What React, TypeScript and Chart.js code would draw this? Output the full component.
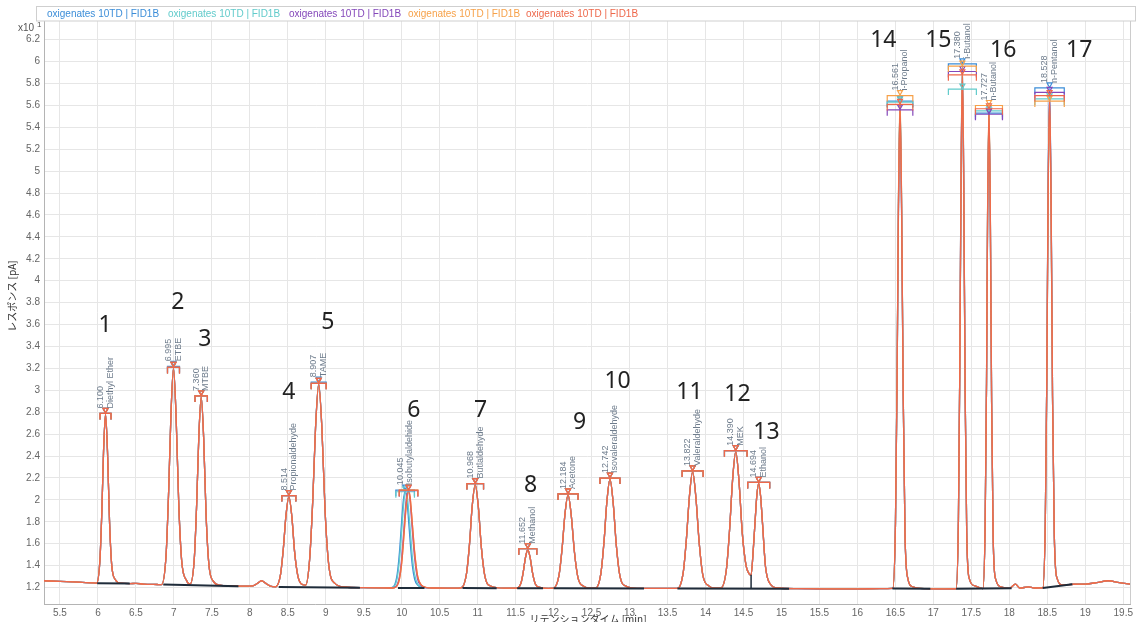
import React, { useEffect, useRef } from "react";
import { Chart, registerables } from "chart.js";

Chart.register(...registerables);

// ---------- data ----------
const retentionTime = [
  5.29, 5.5, 5.75, 5.95,
  5.982, 6.026, 6.052, 6.074, 6.1, 6.126, 6.152, 6.181, 6.23,
  6.3, 6.42, 6.5, 6.6, 6.78,
  6.838, 6.897, 6.931, 6.961, 6.995, 7.029, 7.064, 7.103, 7.167,
  7.213, 7.268, 7.3, 7.328, 7.36, 7.392, 7.424, 7.461, 7.521,
  7.6, 7.75, 7.9,
  8.04, 8.1, 8.155, 8.21, 8.27,
  8.338, 8.404, 8.442, 8.475, 8.514, 8.553, 8.591, 8.635, 8.69,
  8.735, 8.787, 8.829, 8.865, 8.907, 8.949, 8.991, 9.039, 9.117,
  9.25, 9.5, 9.7,
  9.85, 9.9, 9.94, 9.97, 10.0, 10.02, 10.045, 10.07, 10.09, 10.11, 10.14, 10.17, 10.21, 10.26, 10.33, 10.42,
  10.6,
  10.782, 10.852, 10.893, 10.927, 10.968, 11.009, 11.049, 11.096, 11.171,
  11.35,
  11.516, 11.57, 11.601, 11.628, 11.66, 11.692, 11.723, 11.759, 11.818,
  11.93,
  11.998, 12.07, 12.112, 12.148, 12.19, 12.232, 12.274, 12.322, 12.4,
  12.48,
  12.55, 12.622, 12.664, 12.7, 12.742, 12.784, 12.826, 12.874, 12.952,
  13.1, 13.4,
  13.632, 13.706, 13.749, 13.787, 13.83, 13.873, 13.917, 13.966, 14.047,
  14.13,
  14.2, 14.274, 14.317, 14.355, 14.398, 14.441, 14.485, 14.534, 14.57, 14.6,
  14.63, 14.655, 14.675, 14.7, 14.725, 14.75, 14.79, 14.85, 14.95,
  15.2, 15.6, 16.0, 16.3,
  16.465, 16.501, 16.522, 16.54, 16.561, 16.582, 16.603, 16.627, 16.666, 16.72,
  16.9, 17.15,
  17.299, 17.33, 17.348, 17.364, 17.382, 17.4, 17.418, 17.439, 17.473, 17.55, 17.62,
  17.652, 17.682, 17.7, 17.714, 17.732, 17.75, 17.767, 17.787, 17.82, 17.9,
  18.0, 18.08, 18.14, 18.25, 18.33,
  18.44, 18.474, 18.494, 18.51, 18.53, 18.55, 18.569, 18.592, 18.628,
  18.7, 18.85, 19.0, 19.15, 19.3, 19.45, 19.59,
];

const responseBlue = [
  1.262, 1.256, 1.249, 1.242,
  1.240, 1.448, 1.902, 2.441, 2.780, 2.441, 1.818, 1.409, 1.271,
  1.240, 1.236, 1.238, 1.232, 1.228,
  1.227, 1.492, 2.074, 2.765, 3.210, 2.765, 1.966, 1.442, 1.265,
  1.232, 1.454, 1.961, 2.567, 2.940, 2.567, 1.866, 1.411, 1.256,
  1.222, 1.216, 1.213,
  1.215, 1.238, 1.262, 1.238, 1.214,
  1.207, 1.318, 1.561, 1.849, 2.030, 1.849, 1.516, 1.298, 1.228,
  1.222, 1.454, 2.000, 2.653, 3.065, 2.653, 1.898, 1.408, 1.241,
  1.205, 1.199, 1.197,
  1.197, 1.216, 1.321, 1.520, 1.812, 1.987, 2.080, 1.987, 1.815, 1.629, 1.400, 1.276, 1.222, 1.204, 1.198, 1.196,
  1.195,
  1.198, 1.323, 1.601, 1.935, 2.140, 1.935, 1.564, 1.299, 1.214,
  1.194,
  1.195, 1.241, 1.345, 1.469, 1.545, 1.469, 1.331, 1.233, 1.201,
  1.193,
  1.194, 1.308, 1.559, 1.860, 2.045, 1.860, 1.525, 1.287, 1.210,
  1.195,
  1.194, 1.328, 1.622, 1.974, 2.190, 1.974, 1.582, 1.303, 1.213,
  1.193, 1.192,
  1.193, 1.336, 1.649, 2.024, 2.255, 2.024, 1.607, 1.309, 1.213,
  1.194,
  1.195, 1.360, 1.729, 2.169, 2.440, 2.169, 1.690, 1.400, 1.330, 1.316,
  1.560, 1.830, 2.035, 2.150, 2.035, 1.790, 1.390, 1.235, 1.196,
  1.190, 1.188, 1.188, 1.190,
  1.192, 1.785, 3.086, 4.667, 5.630, 4.667, 2.954, 1.675, 1.278, 1.210,
  1.190, 1.188,
  1.189, 1.820, 3.201, 4.932, 5.970, 4.932, 3.014, 1.703, 1.282, 1.215, 1.195,
  1.191, 1.780, 3.069, 4.580, 5.520, 4.580, 2.894, 1.671, 1.277, 1.205,
  1.192, 1.232, 1.195, 1.206, 1.196,
  1.197, 1.801, 3.124, 4.762, 5.750, 4.762, 2.945, 1.689, 1.286,
  1.225, 1.230, 1.232, 1.245, 1.262, 1.245, 1.232,
];

const responseCyan = [
  1.262, 1.256, 1.249, 1.242,
  1.240, 1.448, 1.902, 2.441, 2.780, 2.441, 1.818, 1.409, 1.271,
  1.240, 1.236, 1.238, 1.232, 1.228,
  1.227, 1.492, 2.074, 2.765, 3.200, 2.765, 1.966, 1.442, 1.265,
  1.232, 1.454, 1.961, 2.567, 2.940, 2.567, 1.866, 1.411, 1.256,
  1.222, 1.216, 1.213,
  1.215, 1.238, 1.262, 1.238, 1.214,
  1.207, 1.318, 1.561, 1.849, 2.030, 1.849, 1.516, 1.298, 1.228,
  1.222, 1.454, 2.000, 2.653, 3.055, 2.653, 1.898, 1.408, 1.241,
  1.205, 1.199, 1.197,
  1.196, 1.210, 1.287, 1.452, 1.722, 1.912, 2.065, 2.046, 1.912, 1.744, 1.479, 1.320, 1.231, 1.208, 1.199, 1.196,
  1.195,
  1.198, 1.323, 1.601, 1.935, 2.140, 1.935, 1.564, 1.299, 1.214,
  1.194,
  1.195, 1.241, 1.345, 1.469, 1.545, 1.469, 1.331, 1.233, 1.201,
  1.193,
  1.194, 1.308, 1.559, 1.860, 2.045, 1.860, 1.525, 1.287, 1.210,
  1.195,
  1.194, 1.328, 1.622, 1.974, 2.190, 1.974, 1.582, 1.303, 1.213,
  1.193, 1.192,
  1.193, 1.336, 1.649, 2.024, 2.255, 2.024, 1.607, 1.309, 1.213,
  1.194,
  1.195, 1.360, 1.729, 2.169, 2.440, 2.169, 1.690, 1.400, 1.330, 1.316,
  1.560, 1.830, 2.035, 2.150, 2.035, 1.790, 1.390, 1.235, 1.196,
  1.190, 1.188, 1.188, 1.190,
  1.192, 1.785, 3.086, 4.659, 5.620, 4.659, 2.954, 1.675, 1.278, 1.210,
  1.190, 1.188,
  1.189, 1.820, 3.201, 4.752, 5.740, 4.752, 3.014, 1.703, 1.282, 1.215, 1.195,
  1.191, 1.780, 3.069, 4.596, 5.540, 4.596, 2.894, 1.671, 1.277, 1.205,
  1.192, 1.232, 1.195, 1.206, 1.196,
  1.197, 1.801, 3.124, 4.683, 5.650, 4.683, 2.945, 1.689, 1.286,
  1.225, 1.230, 1.232, 1.245, 1.262, 1.245, 1.232,
];

const responsePurple = [
  1.262, 1.256, 1.249, 1.242,
  1.240, 1.448, 1.902, 2.441, 2.780, 2.441, 1.818, 1.409, 1.271,
  1.240, 1.236, 1.238, 1.232, 1.228,
  1.227, 1.492, 2.074, 2.765, 3.200, 2.765, 1.966, 1.442, 1.265,
  1.232, 1.454, 1.961, 2.567, 2.940, 2.567, 1.866, 1.411, 1.256,
  1.222, 1.216, 1.213,
  1.215, 1.238, 1.262, 1.238, 1.214,
  1.207, 1.318, 1.561, 1.849, 2.030, 1.849, 1.516, 1.298, 1.228,
  1.222, 1.454, 2.000, 2.653, 3.055, 2.653, 1.898, 1.408, 1.241,
  1.205, 1.199, 1.197,
  1.196, 1.200, 1.225, 1.300, 1.470, 1.650, 1.890, 2.060, 2.075, 1.990, 1.720, 1.470, 1.275, 1.215, 1.199, 1.196,
  1.195,
  1.198, 1.323, 1.601, 1.935, 2.140, 1.935, 1.564, 1.299, 1.214,
  1.194,
  1.195, 1.241, 1.345, 1.469, 1.545, 1.469, 1.331, 1.233, 1.201,
  1.193,
  1.194, 1.308, 1.559, 1.860, 2.045, 1.860, 1.525, 1.287, 1.210,
  1.195,
  1.194, 1.328, 1.622, 1.974, 2.190, 1.974, 1.582, 1.303, 1.213,
  1.193, 1.192,
  1.193, 1.336, 1.649, 2.024, 2.255, 2.024, 1.607, 1.309, 1.213,
  1.194,
  1.195, 1.360, 1.729, 2.169, 2.440, 2.169, 1.690, 1.400, 1.330, 1.316,
  1.560, 1.830, 2.035, 2.150, 2.035, 1.790, 1.390, 1.235, 1.196,
  1.190, 1.186, 1.186, 1.190,
  1.192, 1.785, 3.086, 4.604, 5.550, 4.604, 2.954, 1.675, 1.278, 1.210,
  1.190, 1.186,
  1.189, 1.820, 3.201, 4.877, 5.900, 4.877, 3.014, 1.703, 1.282, 1.215, 1.195,
  1.191, 1.780, 3.069, 4.573, 5.510, 4.573, 2.894, 1.671, 1.277, 1.205,
  1.192, 1.232, 1.195, 1.206, 1.196,
  1.197, 1.801, 3.124, 4.730, 5.710, 4.730, 2.945, 1.689, 1.286,
  1.225, 1.230, 1.232, 1.245, 1.262, 1.245, 1.232,
];

const responseOrange = [
  1.262, 1.256, 1.249, 1.242,
  1.240, 1.448, 1.902, 2.441, 2.780, 2.441, 1.818, 1.409, 1.271,
  1.240, 1.236, 1.238, 1.232, 1.228,
  1.227, 1.492, 2.074, 2.765, 3.200, 2.765, 1.966, 1.442, 1.265,
  1.232, 1.454, 1.961, 2.567, 2.940, 2.567, 1.866, 1.411, 1.256,
  1.222, 1.216, 1.213,
  1.215, 1.238, 1.262, 1.238, 1.214,
  1.207, 1.318, 1.561, 1.849, 2.030, 1.849, 1.516, 1.298, 1.228,
  1.222, 1.454, 2.000, 2.653, 3.055, 2.653, 1.898, 1.408, 1.241,
  1.205, 1.199, 1.197,
  1.196, 1.198, 1.217, 1.278, 1.426, 1.590, 1.828, 2.024, 2.080, 2.027, 1.780, 1.523, 1.302, 1.222, 1.200, 1.196,
  1.195,
  1.198, 1.323, 1.601, 1.935, 2.140, 1.935, 1.564, 1.299, 1.214,
  1.194,
  1.195, 1.241, 1.345, 1.469, 1.545, 1.469, 1.331, 1.233, 1.201,
  1.193,
  1.194, 1.308, 1.559, 1.860, 2.045, 1.860, 1.525, 1.287, 1.210,
  1.195,
  1.194, 1.328, 1.622, 1.974, 2.190, 1.974, 1.582, 1.303, 1.213,
  1.193, 1.192,
  1.193, 1.336, 1.649, 2.024, 2.255, 2.024, 1.607, 1.309, 1.213,
  1.194,
  1.195, 1.360, 1.729, 2.169, 2.440, 2.169, 1.690, 1.400, 1.330, 1.316,
  1.560, 1.830, 2.035, 2.150, 2.035, 1.790, 1.390, 1.235, 1.196,
  1.190, 1.188, 1.188, 1.190,
  1.192, 1.785, 3.086, 4.706, 5.680, 4.706, 2.954, 1.675, 1.278, 1.210,
  1.190, 1.188,
  1.189, 1.820, 3.201, 4.917, 5.950, 4.917, 3.014, 1.703, 1.282, 1.215, 1.195,
  1.191, 1.780, 3.069, 4.635, 5.590, 4.635, 2.894, 1.671, 1.277, 1.205,
  1.192, 1.232, 1.195, 1.206, 1.196,
  1.197, 1.801, 3.124, 4.668, 5.630, 4.668, 2.945, 1.689, 1.286,
  1.225, 1.230, 1.232, 1.245, 1.262, 1.245, 1.232,
];

const responseRed = [
  1.262, 1.256, 1.249, 1.242,
  1.240, 1.448, 1.902, 2.441, 2.780, 2.441, 1.818, 1.409, 1.271,
  1.240, 1.236, 1.238, 1.232, 1.228,
  1.227, 1.492, 2.074, 2.765, 3.200, 2.765, 1.966, 1.442, 1.265,
  1.232, 1.454, 1.961, 2.567, 2.940, 2.567, 1.866, 1.411, 1.256,
  1.222, 1.216, 1.213,
  1.215, 1.238, 1.262, 1.238, 1.214,
  1.207, 1.318, 1.561, 1.849, 2.030, 1.849, 1.516, 1.298, 1.228,
  1.222, 1.454, 2.000, 2.653, 3.055, 2.653, 1.898, 1.408, 1.241,
  1.205, 1.199, 1.197,
  1.196, 1.198, 1.217, 1.278, 1.426, 1.590, 1.828, 2.024, 2.080, 2.027, 1.780, 1.523, 1.302, 1.222, 1.200, 1.196,
  1.195,
  1.198, 1.323, 1.601, 1.935, 2.140, 1.935, 1.564, 1.299, 1.214,
  1.194,
  1.195, 1.241, 1.345, 1.469, 1.545, 1.469, 1.331, 1.233, 1.201,
  1.193,
  1.194, 1.308, 1.559, 1.860, 2.045, 1.860, 1.525, 1.287, 1.210,
  1.195,
  1.194, 1.328, 1.622, 1.974, 2.190, 1.974, 1.582, 1.303, 1.213,
  1.193, 1.192,
  1.193, 1.336, 1.649, 2.024, 2.255, 2.024, 1.607, 1.309, 1.213,
  1.194,
  1.195, 1.360, 1.729, 2.169, 2.440, 2.169, 1.690, 1.400, 1.330, 1.316,
  1.560, 1.830, 2.035, 2.150, 2.035, 1.790, 1.390, 1.235, 1.196,
  1.190, 1.188, 1.188, 1.190,
  1.192, 1.785, 3.086, 4.643, 5.600, 4.643, 2.954, 1.675, 1.278, 1.210,
  1.190, 1.188,
  1.189, 1.820, 3.201, 4.854, 5.870, 4.854, 3.014, 1.703, 1.282, 1.215, 1.195,
  1.191, 1.780, 3.069, 4.612, 5.560, 4.612, 2.894, 1.671, 1.277, 1.205,
  1.192, 1.232, 1.195, 1.206, 1.196,
  1.197, 1.801, 3.124, 4.707, 5.680, 4.707, 2.945, 1.689, 1.286,
  1.225, 1.230, 1.232, 1.245, 1.262, 1.245, 1.232,
];

const seriesNames = [
  "oxigenates 10TD | FID1B",
  "oxigenates 10TD | FID1B",
  "oxigenates 10TD | FID1B",
  "oxigenates 10TD | FID1B",
  "oxigenates 10TD | FID1B",
];

// integration baselines (start/end retention time and response)
const integrationStart = [5.99, 6.86, 8.38, 9.95, 10.8, 11.52, 12.0, 13.63, 16.46, 17.3, 18.44];
const integrationStartLevel = [1.240, 1.227, 1.206, 1.196, 1.196, 1.194, 1.193, 1.192, 1.191, 1.189, 1.196];
const integrationEnd = [6.42, 7.85, 9.45, 10.3, 11.25, 11.86, 13.19, 15.1, 16.96, 18.03, 18.83];
const integrationEndLevel = [1.236, 1.213, 1.199, 1.196, 1.194, 1.193, 1.192, 1.190, 1.190, 1.193, 1.230];
const dropLineTime = [14.6, 14.6];
const dropLineLevel = [1.191, 1.316];

// peaks
const peakTimes = [6.1, 6.995, 7.36, 8.514, 8.907, 10.045, 10.968, 11.652, 12.184, 12.742, 13.822, 14.39, 14.694, 16.561, 17.38, 17.727, 18.528];
const peakRtLabels = ["6.100", "6.995", "7.360", "8.514", "8.907", "10.045", "10.968", "11.652", "12.184", "12.742", "13.822", "14.390", "14.694", "16.561", "17.380", "17.727", "18.528"];
const peakCompounds = ["Diethyl Ether", "ETBE", "MTBE", "Propionaldehyde", "TAME", "Isobutylaldehide", "Butlaldehyde", "Methanol", "Acetone", "Isovaleraldehyde", "Valeraldehyde", "MEK", "Ethanol", "i-Propanol", "i-Butanol", "n-Butanol", "n-Pentanol"];
const peakNumbers = ["1", "2", "3", "4", "5", "6", "7", "8", "9", "10", "11", "12", "13", "14", "15", "16", "17"];
const peakNumberTime = [6.093, 7.053, 7.408, 8.513, 9.026, 10.158, 11.039, 11.697, 12.342, 12.842, 13.789, 14.421, 14.802, 16.341, 17.065, 17.92, 18.92];
const peakNumberResponse = [3.596, 3.806, 3.468, 2.984, 3.623, 2.82, 2.82, 2.136, 2.711, 3.085, 2.984, 2.966, 2.619, 6.196, 6.196, 6.105, 6.105];

const xTicks = [5.5, 6, 6.5, 7, 7.5, 8, 8.5, 9, 9.5, 10, 10.5, 11, 11.5, 12, 12.5, 13, 13.5, 14, 14.5, 15, 15.5, 16, 16.5, 17, 17.5, 18, 18.5, 19, 19.5];
const yTicks = [1.2, 1.4, 1.6, 1.8, 2, 2.2, 2.4, 2.6, 2.8, 3, 3.2, 3.4, 3.6, 3.8, 4, 4.2, 4.4, 4.6, 4.8, 5, 5.2, 5.4, 5.6, 5.8, 6, 6.2];

// ---------- styles ----------
const seriesColors = ["#3b8dd8", "#62cbcb", "#8448ba", "#f6a149", "#ee684b"];
const bracketHalfWidth = [5.5, 6, 6.2, 7, 7.5, 9.3, 8.3, 9, 10, 10, 10.5, 11.3, 11, 12.8, 14, 13.5, 14.7];
const legendX = [47, 168, 289, 408, 526];
const FONT = "'Liberation Sans', Arial, sans-serif";

export default function App() {
  const ref = useRef<HTMLCanvasElement>(null);

  useEffect(() => {
    const canvas = ref.current;
    if (!canvas) return;
    Chart.defaults.font.family = FONT;
    const series = [responseBlue, responseCyan, responsePurple, responseOrange, responseRed];

    const datasets: any[] = series.map((vals, i) => ({
      label: seriesNames[i],
      data: retentionTime.map((t, k) => ({ x: t, y: vals[k] })),
      borderColor: seriesColors[i],
      borderWidth: 1.3,
      pointRadius: 0,
      cubicInterpolationMode: "monotone",
      fill: false,
      order: 10 - i,
    }));

    const integ: any[] = [];
    integrationStart.forEach((s, i) => {
      integ.push({ x: s, y: integrationStartLevel[i] });
      integ.push({ x: integrationEnd[i], y: integrationEndLevel[i] });
      integ.push({ x: integrationEnd[i] + 0.001, y: null });
    });
    datasets.push({
      label: "integration",
      data: integ,
      borderColor: "#1f2c3a",
      borderWidth: 2,
      pointRadius: 0,
      tension: 0,
      spanGaps: false,
      fill: false,
      order: 1,
    });
    datasets.push({
      label: "drop",
      data: dropLineTime.map((t, i) => ({ x: t, y: dropLineLevel[i] })),
      borderColor: "#1f2c3a",
      borderWidth: 1.5,
      pointRadius: 0,
      tension: 0,
      fill: false,
      order: 1,
    });

    const peakPlugin = {
      id: "peakAnnotations",
      afterDatasetsDraw(chart: any) {
        const { ctx, chartArea: ca, scales } = chart;
        const xs = scales.x;
        const ys = scales.y;
        ctx.save();
        ctx.beginPath();
        ctx.rect(ca.left, ca.top, ca.right - ca.left, ca.bottom - ca.top);
        ctx.clip();
        peakTimes.forEach((pt, p) => {
          let topY = Infinity;
          let labelX = 0;
          series.forEach((vals, si) => {
            let bi = -1;
            for (let k = 0; k < retentionTime.length; k++) {
              if (Math.abs(retentionTime[k] - pt) <= 0.065 && (bi < 0 || vals[k] > vals[bi])) bi = k;
            }
            if (bi < 0) return;
            const px = xs.getPixelForValue(retentionTime[bi]);
            const py = ys.getPixelForValue(vals[bi]);
            if (si === 0) labelX = px;
            topY = Math.min(topY, py);
            const hw = bracketHalfWidth[p];
            ctx.strokeStyle = seriesColors[si];
            ctx.lineWidth = 1.2;
            ctx.beginPath();
            ctx.moveTo(px - hw, py + 5);
            ctx.lineTo(px - hw, py - 1);
            ctx.lineTo(px + hw, py - 1);
            ctx.lineTo(px + hw, py + 5);
            ctx.stroke();
            ctx.beginPath();
            ctx.moveTo(px - 2.5, py - 6);
            ctx.lineTo(px + 2.5, py - 6);
            ctx.lineTo(px, py - 1.5);
            ctx.closePath();
            ctx.stroke();
          });
          ctx.fillStyle = "#6e7c8c";
          ctx.font = "9px " + FONT;
          const cols: [string, number][] = [
            [peakRtLabels[p], -4.8],
            [peakCompounds[p], 4.8],
          ];
          cols.forEach(([txt, dx]) => {
            ctx.save();
            ctx.translate(labelX + dx, topY - 6);
            ctx.rotate(-Math.PI / 2);
            ctx.textAlign = "left";
            ctx.textBaseline = "middle";
            ctx.fillText(txt, 0, 0);
            ctx.restore();
          });
        });
        ctx.restore();

        // big peak numbers
        ctx.save();
        ctx.fillStyle = "#222";
        ctx.font = "23px 'Noto Sans', sans-serif";
        ctx.textAlign = "center";
        ctx.textBaseline = "middle";
        peakNumbers.forEach((n, i) => {
          ctx.fillText(n, xs.getPixelForValue(peakNumberTime[i]), ys.getPixelForValue(peakNumberResponse[i]));
        });
        ctx.restore();
      },
      afterDraw(chart: any) {
        const { ctx, chartArea: ca } = chart;
        ctx.save();
        // legend box
        ctx.strokeStyle = "#cfcfcf";
        ctx.lineWidth = 1;
        ctx.strokeRect(36.5, 6.5, 1099, 14.5);
        ctx.font = "10px " + FONT;
        ctx.textBaseline = "middle";
        ctx.textAlign = "left";
        seriesNames.forEach((n, i) => {
          ctx.fillStyle = seriesColors[i];
          ctx.fillText(n, legendX[i], 14);
        });
        // right border
        ctx.strokeStyle = "#cccccc";
        ctx.beginPath();
        ctx.moveTo(Math.round(ca.right) + 0.5, ca.top);
        ctx.lineTo(Math.round(ca.right) + 0.5, ca.bottom);
        ctx.stroke();
        // x10^1
        ctx.fillStyle = "#555";
        ctx.font = "10px " + FONT;
        ctx.textAlign = "right";
        ctx.fillText("x10", 34, 28);
        ctx.font = "8px " + FONT;
        ctx.textAlign = "left";
        ctx.fillText("1", 37, 25);
        // y-axis title
        ctx.fillStyle = "#333";
        ctx.font = "10px 'Noto Sans CJK JP', sans-serif";
        ctx.save();
        ctx.translate(12, 296);
        ctx.rotate(-Math.PI / 2);
        ctx.textAlign = "center";
        ctx.textBaseline = "middle";
        ctx.fillText("レスポンス [pA]", 0, 0);
        ctx.restore();
        // x-axis title (cut at bottom edge)
        ctx.textAlign = "center";
        ctx.textBaseline = "top";
        ctx.fillText("リテンションタイム [min]", 588, 614);
        ctx.restore();
      },
    };

    const chart = new Chart(canvas, {
      type: "line",
      data: { datasets },
      options: {
        responsive: false,
        animation: false,
        devicePixelRatio: 1,
        events: [],
        layout: { padding: { top: 21, right: 5, left: 0, bottom: 0 } },
        plugins: { legend: { display: false }, tooltip: { enabled: false } },
        scales: {
          x: {
            type: "linear",
            min: 5.29,
            max: 19.59,
            afterBuildTicks: (s: any) => {
              s.ticks = xTicks.map((v) => ({ value: v }));
            },
            afterFit: (s: any) => {
              s.height = 18;
            },
            ticks: {
              autoSkip: false,
              maxRotation: 0,
              padding: 3,
              color: "#666",
              font: { size: 10 },
              callback: (v: any) => String(v),
            },
            grid: { color: "#e6e6e6", drawTicks: false },
            border: { display: true, color: "#b4b4b4" },
          },
          y: {
            type: "linear",
            min: 1.05,
            max: 6.37,
            afterBuildTicks: (s: any) => {
              s.ticks = yTicks.map((v) => ({ value: v }));
            },
            afterFit: (s: any) => {
              s.width = 44;
            },
            ticks: {
              autoSkip: false,
              padding: 4,
              color: "#666",
              font: { size: 10 },
              callback: (v: any) => String(+Number(v).toFixed(1)),
            },
            grid: { color: "#e6e6e6", drawTicks: false },
            border: { display: true, color: "#b4b4b4" },
          },
        },
      } as any,
      plugins: [peakPlugin],
    });

    return () => chart.destroy();
  }, []);

  return (
    <div style={{ position: "absolute", left: 0, top: 0, width: 1136, height: 622, background: "#fff" }}>
      <canvas ref={ref} width={1136} height={622} style={{ display: "block", width: 1136, height: 622 }} />
    </div>
  );
}
